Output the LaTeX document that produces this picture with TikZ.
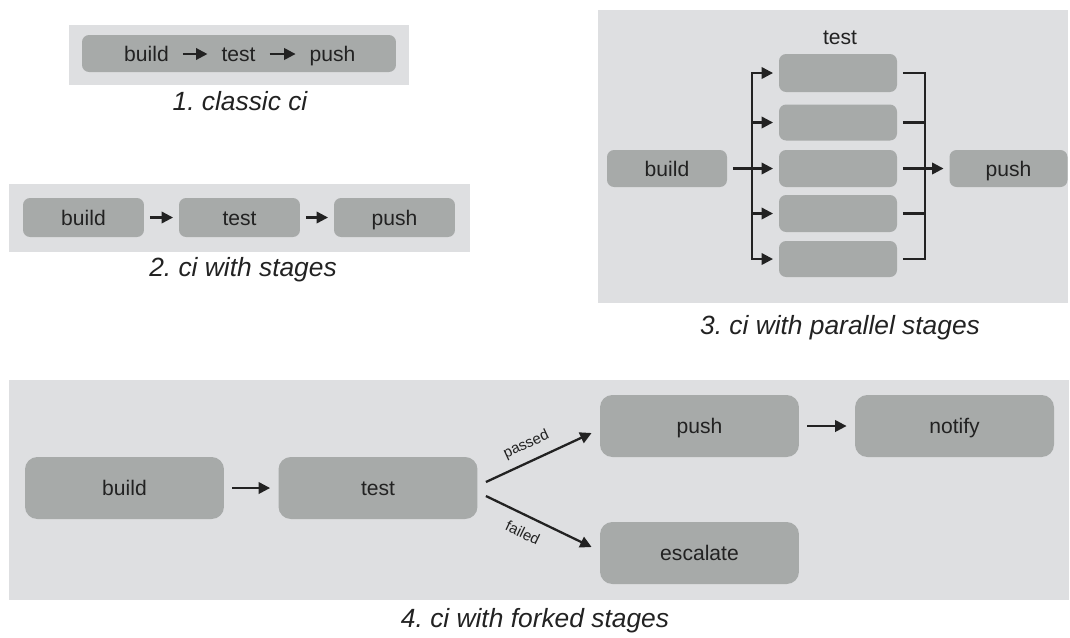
\documentclass[tikz,border=0pt]{standalone}
\usepackage{fontspec}
\setmainfont{Liberation Sans}
\usetikzlibrary{arrows.meta}
\definecolor{panelgray}{HTML}{DEDFE1}
\definecolor{boxgray}{HTML}{A7AAA9}
\definecolor{inkgray}{HTML}{222222}
\tikzset{
  stage/.style={fill=boxgray, rounded corners=4pt, text=inkgray,
    font=\fontsize{12}{14}\selectfont, text height=10pt, text depth=1pt,
    inner sep=0pt, outer sep=3.4pt, minimum height=0.76cm},
  bigstage/.style={stage, rounded corners=7pt, minimum width=3.98cm,
    minimum height=1.24cm, outer sep=4.8pt},
  word/.style={text=inkgray, font=\fontsize{12}{14}\selectfont,
    text height=10pt, text depth=1pt, inner sep=0pt, outer sep=8pt},
  caption/.style={text=inkgray, font=\fontsize{15}{18}\selectfont\itshape\frenchspacing},
  tag/.style={text=inkgray, font=\fontsize{8.5}{10}\selectfont, inner sep=2pt},
  flow/.style={-{Triangle[length=6.5pt,width=6.5pt]}, line width=1.3pt, draw=inkgray},
  wire/.style={line width=1.3pt, draw=inkgray},
}
\begin{document}
\begin{tikzpicture}[x=0.02cm, y=-0.02cm]
\useasboundingbox (0,0) rectangle (1070,637);
% panels
  \fill[panelgray] (69,25) rectangle (409,85);
  \fill[panelgray] (9,184) rectangle (470,252);
  \fill[panelgray] (598,10) rectangle (1068,303);
  \fill[panelgray] (9,380) rectangle (1069,600);
% 1. classic ci
  \node[stage, minimum width=6.28cm, minimum height=0.74cm] (pipe1) at (239,53.5) {};
  \node[word] (build1) at (146.5,54) {build};
  \node[word] (test1) at (238.5,54) {test};
  \node[word] (push1) at (332.5,54) {push};
  \draw[flow] (build1) -- (test1);
  \draw[flow] (test1) -- (push1);
  \node[caption] (cap1) at (240,101) {1. classic ci};
% 2. ci with stages
  \node[stage, minimum width=2.42cm, minimum height=0.78cm] (build2) at (83.5,217.5) {build};
  \node[stage, minimum width=2.42cm, minimum height=0.78cm] (test2) at (239.5,217.5) {test};
  \node[stage, minimum width=2.42cm, minimum height=0.78cm] (push2) at (394.5,217.5) {push};
  \draw[flow] (build2) -- (test2);
  \draw[flow] (test2) -- (push2);
  \node[caption] (cap2) at (243,270) {2. ci with stages};
% 3. ci with parallel stages
  \node[stage, minimum width=2.4cm, minimum height=0.74cm] (build3) at (667,168.5) {build};
  \node[stage, minimum width=2.36cm, minimum height=0.76cm] (t1) at (838,73) {};
  \node[stage, minimum width=2.36cm, minimum height=0.72cm] (t2) at (838,122.5) {};
  \node[stage, minimum width=2.36cm, minimum height=0.74cm] (t3) at (838,168.5) {};
  \node[stage, minimum width=2.36cm, minimum height=0.74cm] (t4) at (838,213.5) {};
  \node[stage, minimum width=2.36cm, minimum height=0.72cm] (t5) at (838,259) {};
  \node[stage, minimum width=2.36cm, minimum height=0.74cm] (push3) at (1008.5,168.5) {push};
  \node[word, outer sep=0pt] (testlabel) at (840,37) {test};
  \coordinate (fork) at (752,168.5);
  \coordinate (join) at (925,168.5);
  \draw[flow] (build3) -- (t3);
  \foreach \i in {1,2,4,5}
    \draw[flow] (fork) |- (t\i);
  \foreach \i in {1,2,4,5}
    \draw[wire] (t\i) -| (join);
  \draw[flow] (t3) -- (push3);
  \node[caption] (cap3) at (840,328) {3. ci with parallel stages};
% 4. ci with forked stages
  \node[bigstage] (build4) at (124.5,488) {build};
  \node[bigstage] (test4) at (378,488) {test};
  \node[bigstage] (push4) at (699.5,426) {push};
  \node[bigstage] (notify4) at (954.5,426) {notify};
  \node[bigstage] (escalate4) at (699.5,553) {escalate};
  \draw[flow] (build4) -- (test4);
  \draw[flow] (push4) -- (notify4);
  \draw[flow] ([yshift=0.12cm]test4.east) -- node[tag, sloped, above=3pt, pos=0.45] {passed} ([yshift=-0.14cm]push4.west);
  \draw[flow] ([yshift=-0.16cm]test4.east) -- node[tag, sloped, below=4pt, pos=0.42] {failed} ([yshift=0.12cm]escalate4.west);
  \node[caption] (cap4) at (535,621) {4. ci with forked stages};
\end{tikzpicture}
\end{document}
